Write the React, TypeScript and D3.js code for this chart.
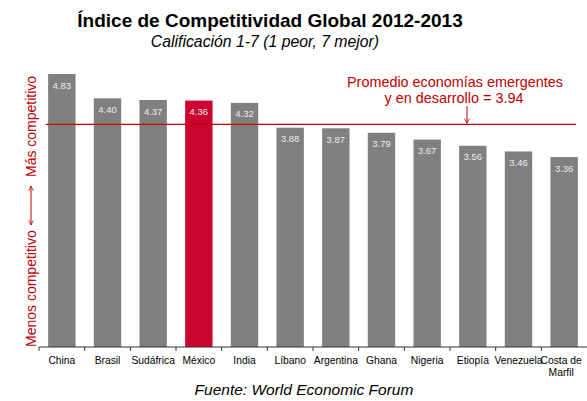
import React from "react";
import * as d3 from "d3";

const countries = ["China", "Brasil", "Sudáfrica", "México", "India", "Líbano", "Argentina", "Ghana", "Nigeria", "Etiopía", "Venezuela", "Costa de Marfil"];
const scores = [4.83, 4.40, 4.37, 4.36, 4.32, 3.88, 3.87, 3.79, 3.67, 3.56, 3.46, 3.36];
const highlight = ["México"];
const average = 3.94;

const W = 587, H = 401;
const FONT = "'Liberation Sans', Arial, sans-serif";
const RED = "#c00000";

export default function App() {
  const x = d3.scaleBand<string>().domain(countries).range([39, 587]).paddingInner(0.4).paddingOuter(0.2);
  const y = d3.scaleLinear().domain([0, 6]).range([347, 347 - 6 * 56.52]);
  const step = x.step();
  const outer = step * 0.2;
  const yAvg = y(average);
  return (
    <svg width={W} height={H} style={{ position: "absolute", left: 0, top: 0 }} fontFamily={FONT}>
      <defs>
        <marker id="ah" viewBox="0 0 10 10" refX="9" refY="5" markerWidth="6" markerHeight="6" orient="auto-start-reverse">
          <path d="M1,1 L9,5 L1,9" fill="none" stroke={RED} strokeWidth="1.3" />
        </marker>
      </defs>
      <rect width={W} height={H} fill="#fff" />
      <text x={270} y={27} textAnchor="middle" fontSize={19} fontWeight="bold" fill="#000">Índice de Competitividad Global 2012-2013</text>
      <text x={265} y={47} textAnchor="middle" fontSize={15.8} fontStyle="italic" fill="#000">Calificación 1-7 (1 peor, 7 mejor)</text>

      {countries.map((c, i) => {
        const bx = x(c)!;
        const top = y(scores[i]);
        return (
          <g key={c}>
            <rect x={bx} y={top} width={x.bandwidth()} height={y(0) - top} fill={highlight.includes(c) ? "#cc0530" : "#808080"} />
            <text x={bx + x.bandwidth() / 2} y={top + 14.5} textAnchor="middle" fontSize={9.5} fill="#ececec">{scores[i].toFixed(2)}</text>
          </g>
        );
      })}

      <line x1={46} x2={576} y1={yAvg} y2={yAvg} stroke={RED} strokeWidth={1.3} />

      <line x1={39} x2={587} y1={y(0)} y2={y(0)} stroke="#333" strokeWidth={1} />
      {countries.map((c, i) => {
        const tx = x(c)! - outer;
        return <line key={"t" + i} x1={tx} x2={tx} y1={y(0)} y2={y(0) + 4} stroke="#333" strokeWidth={1} />;
      })}
      {countries.map((c) => {
        const cx = x(c)! + x.bandwidth() / 2;
        if (c === "Costa de Marfil") {
          return (
            <text key={"l" + c} x={cx - 3} y={364} textAnchor="middle" fontSize={10.3} fill="#000">
              <tspan x={cx - 3} dy={0}>Costa de</tspan>
              <tspan x={cx - 3} dy={12}>Marfil</tspan>
            </text>
          );
        }
        return <text key={"l" + c} x={cx} y={364} textAnchor="middle" fontSize={10.3} fill="#000">{c}</text>;
      })}

      <text x={455} y={87} textAnchor="middle" fontSize={14.4} fill={RED}>Promedio economías emergentes</text>
      <text x={454} y={103} textAnchor="middle" fontSize={14.4} fill={RED}>y en desarrollo = 3.94</text>
      <line x1={467} x2={467} y1={106} y2={yAvg - 1} stroke={RED} strokeWidth={1} markerEnd="url(#ah)" />

      <text transform={`translate(36,347) rotate(-90)`} textAnchor="start" fontSize={14} fill={RED}>Menos competitivo</text>
      <line x1={31} x2={31} y1={225} y2={186} stroke={RED} strokeWidth={1} markerStart="url(#ah)" markerEnd="url(#ah)" />
      <text transform={`translate(36,177) rotate(-90)`} textAnchor="start" fontSize={14} fill={RED}>Más competitivo</text>

      <text x={304} y={395} textAnchor="middle" fontSize={15.5} fontStyle="italic" fill="#000">Fuente: World Economic Forum</text>
    </svg>
  );
}
